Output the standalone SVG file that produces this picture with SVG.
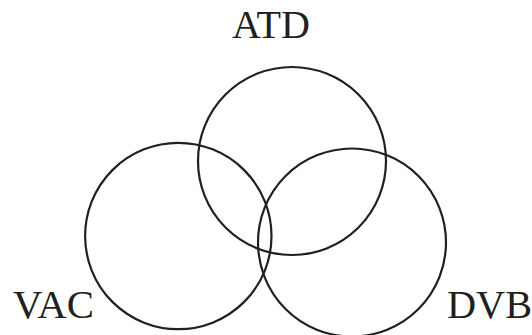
<svg xmlns="http://www.w3.org/2000/svg" width="532" height="335" viewBox="0 0 532 335">
<style>
.c{fill:none;stroke:#231f20;stroke-width:2.2}
.t{font-family:"Liberation Serif",serif;font-size:39px;fill:#231f20}
</style>
<rect width="532" height="335" fill="#fff"/>
<g id="atd"><circle class="c" cx="292" cy="161" r="94"/><text class="t" x="232" y="38" textLength="78" lengthAdjust="spacingAndGlyphs">ATD</text></g>
<g id="vac"><circle class="c" cx="178.3" cy="236" r="93.2"/><text class="t" x="13" y="318" textLength="81" lengthAdjust="spacingAndGlyphs">VAC</text></g>
<g id="dvb"><circle class="c" cx="352" cy="242.5" r="94"/><text class="t" x="447" y="318" textLength="85" lengthAdjust="spacingAndGlyphs">DVB</text></g>
<g id="connectors"/>
</svg>
